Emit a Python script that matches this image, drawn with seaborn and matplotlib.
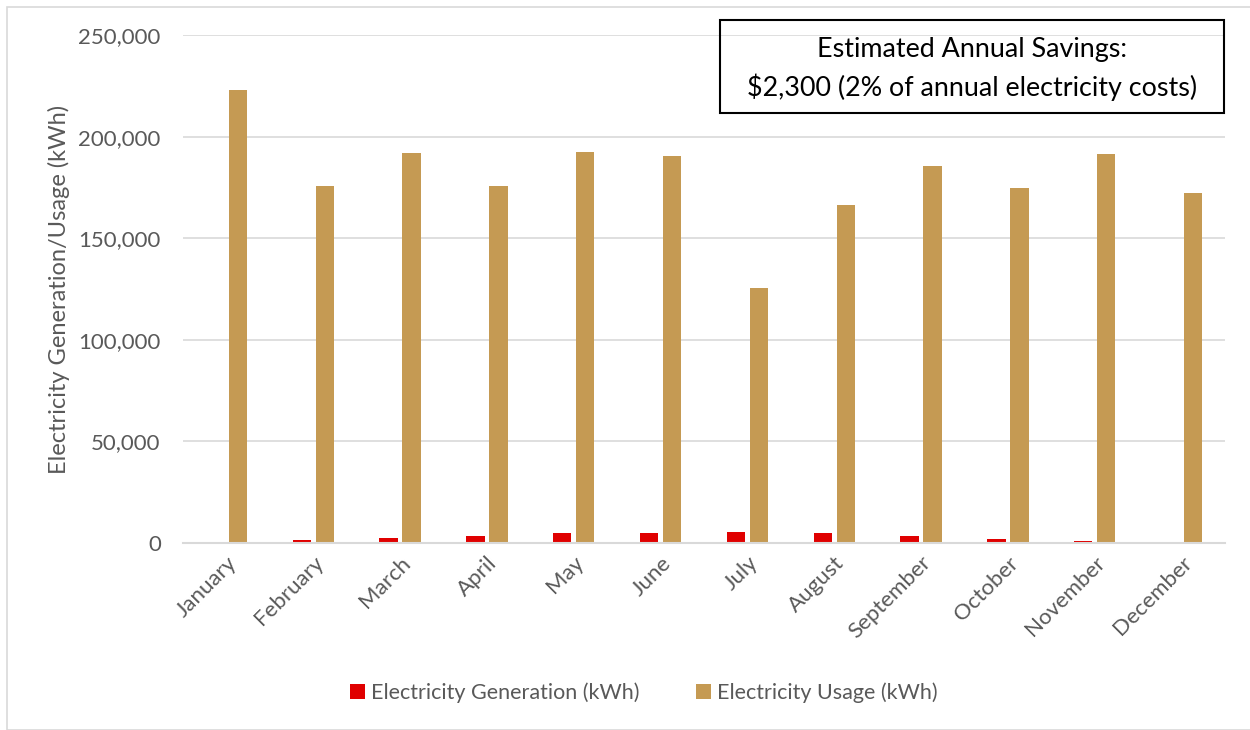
import matplotlib
matplotlib.use("Agg")
import matplotlib.pyplot as plt
import matplotlib.ticker as mticker
from matplotlib.patches import Rectangle
import pandas as pd
import seaborn as sns

months = ["January", "February", "March", "April", "May", "June", "July",
          "August", "September", "October", "November", "December"]
generation = [700, 1500, 2500, 3500, 4700, 5100, 5400, 4700, 3500, 2200, 900, 500]
usage = [223000, 175900, 192100, 175500, 192400, 190400, 125400,
         166300, 185600, 174900, 191200, 172100]
series_names = ["Electricity Generation (kWh)", "Electricity Usage (kWh)"]
y_ticks = [0, 50000, 100000, 150000, 200000, 250000]
note_lines = ["Estimated Annual Savings:", "$2,300 (2% of annual electricity costs)"]

df = pd.DataFrame({
    "month": months * 2,
    "kwh": generation + usage,
    "series": [series_names[0]] * 12 + [series_names[1]] * 12,
})

sns.set_theme(style="white")
plt.rcParams["font.family"] = ["Lato", "DejaVu Sans"]
text_grey = "#595959"

fig = plt.figure(figsize=(12.5, 7.3), dpi=100)
ax = fig.add_axes([183 / 1250, 1 - 543 / 730, (1225 - 183) / 1250, (543 - 35) / 730])

palette = {series_names[0]: "#E00000", series_names[1]: "#C59A53"}
sns.barplot(df, x="month", y="kwh", hue="series", palette=palette, ax=ax,
            width=0.53, gap=0.2, saturation=1, edgecolor="none", legend=True)

ax.set_ylim(0, 250000)
ax.set_xlim(-0.5, 11.5)
ax.set_yticks(y_ticks)
ax.yaxis.set_major_formatter(mticker.StrMethodFormatter("{x:,.0f}"))
ax.grid(axis="y", color="#d9d9d9", linewidth=1.2)
ax.set_axisbelow(True)
for side in ["left", "right", "top"]:
    ax.spines[side].set_visible(False)
ax.spines["bottom"].set_color("#d9d9d9")
ax.spines["bottom"].set_linewidth(1.5)
ax.tick_params(axis="y", length=0, pad=16, labelsize=16, labelcolor=text_grey)
ax.tick_params(axis="x", length=0, pad=7, labelsize=16, labelcolor=text_grey)
plt.setp(ax.get_xticklabels(), rotation=45, ha="right", rotation_mode="anchor")
ax.set_xlabel("")
ax.set_ylabel("Electricity Generation/Usage (kWh)", fontsize=17, color=text_grey, labelpad=6)

ax.legend(loc="center", bbox_to_anchor=(0.515, 1 - 693 / 730), bbox_transform=fig.transFigure,
          ncol=2, frameon=False, fontsize=15.5, labelcolor=text_grey,
          handlelength=0.7, handleheight=0.7, handletextpad=0.3, columnspacing=2.6)

# annotation box
fig.patches.append(Rectangle((720 / 1250, 1 - 113 / 730), (1224 - 720) / 1250, (113 - 20) / 730,
                             transform=fig.transFigure, fill=False, edgecolor="black", linewidth=1.5))
fig.text(972 / 1250, 1 - 50 / 730, note_lines[0], ha="center", va="center", fontsize=19.4, color="black")
fig.text(972 / 1250, 1 - 87 / 730, note_lines[1], ha="center", va="center", fontsize=19.4, color="black")

# outer chart frame
fig.patches.append(Rectangle((7 / 1250, 0), 1.2, 1 - 7 / 730, transform=fig.transFigure,
                             fill=False, edgecolor="#d9d9d9", linewidth=1.2))

fig.savefig("out.png", dpi=100)
